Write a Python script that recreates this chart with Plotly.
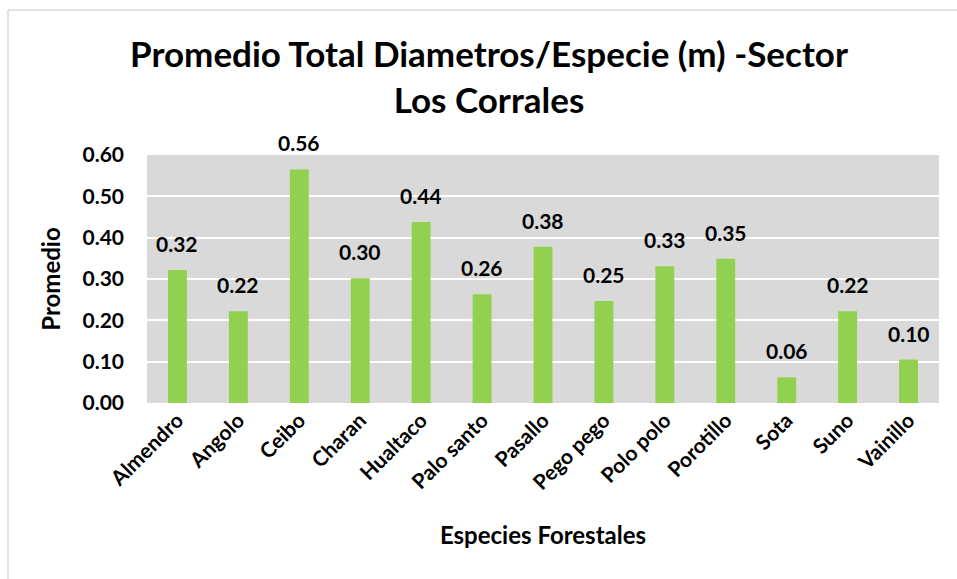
import plotly.graph_objects as go

especies = ["Almendro", "Angolo", "Ceibo", "Charan", "Hualtaco", "Palo santo", "Pasallo",
            "Pego pego", "Polo polo", "Porotillo", "Sota", "Suno", "Vainillo"]
promedio = [0.322, 0.222, 0.565, 0.302, 0.438, 0.263, 0.378, 0.247, 0.331, 0.349, 0.062, 0.222, 0.105]
etiquetas = ["0.32", "0.22", "0.56", "0.30", "0.44", "0.26", "0.38", "0.25", "0.33", "0.35", "0.06", "0.22", "0.10"]
y_ticks = [0.0, 0.1, 0.2, 0.3, 0.4, 0.5, 0.6]
y_tick_labels = ["0.00", "0.10", "0.20", "0.30", "0.40", "0.50", "0.60"]

FONT = "Lato"
W, H = 957, 579
ml, mr, mt, mb = 147, 18, 155, 176
pw = W - ml - mr
ph = H - mt - mb

fig = go.Figure(go.Bar(
    x=especies, y=promedio,
    marker=dict(color="#92D050", line=dict(width=0)),
    cliponaxis=False,
))

for esp, val, lab in zip(especies, promedio, etiquetas):
    fig.add_annotation(x=esp, y=val, text=f"<b>{lab}</b>", showarrow=False,
                       yanchor="bottom", yshift=12,
                       font=dict(family=FONT, size=21, color="black"))

def px_x(p):
    return (p - ml) / pw

def px_y(p):
    return (H - mb - p) / ph

fig.update_layout(
    width=W, height=H,
    margin=dict(l=ml, r=mr, t=mt, b=mb),
    paper_bgcolor="white", plot_bgcolor="#D9D9D9",
    bargap=0.69,
    showlegend=False,
    title=dict(text="<b>Promedio Total Diametros/Especie (m) -Sector<br>Los Corrales</b>",
               x=489 / W, xanchor="center", y=1 - 67 / H, yanchor="middle",
               font=dict(family=FONT, size=35, color="black")),
    xaxis=dict(tickangle=-45, tickfont=dict(family=FONT, size=21, color="black", weight="bold"),
               showgrid=False, ticks="", showline=False, ticklabelstandoff=0,
               title=dict(text="<b>Especies Forestales</b>", font=dict(family=FONT, size=24, color="black"),
                          standoff=34)),
    yaxis=dict(range=[0, 0.6], tickvals=y_ticks, ticktext=y_tick_labels,
               tickfont=dict(family=FONT, size=21, color="black", weight="bold"),
               gridcolor="white", gridwidth=2, zeroline=False, showline=False, ticks="",
               ticklabelstandoff=22,
               title=dict(text="<b>Promedio</b>", font=dict(family=FONT, size=24, color="black"),
                          standoff=15)),
    shapes=[
        dict(type="line", xref="paper", yref="paper", x0=px_x(8), x1=px_x(8), y0=px_y(10), y1=px_y(H + 5),
             line=dict(color="#D9D9D9", width=1.5)),
        dict(type="line", xref="paper", yref="paper", x0=px_x(8), x1=px_x(W + 5), y0=px_y(10), y1=px_y(10),
             line=dict(color="#D9D9D9", width=1.5)),
    ],
)

fig.write_html("out.html")
